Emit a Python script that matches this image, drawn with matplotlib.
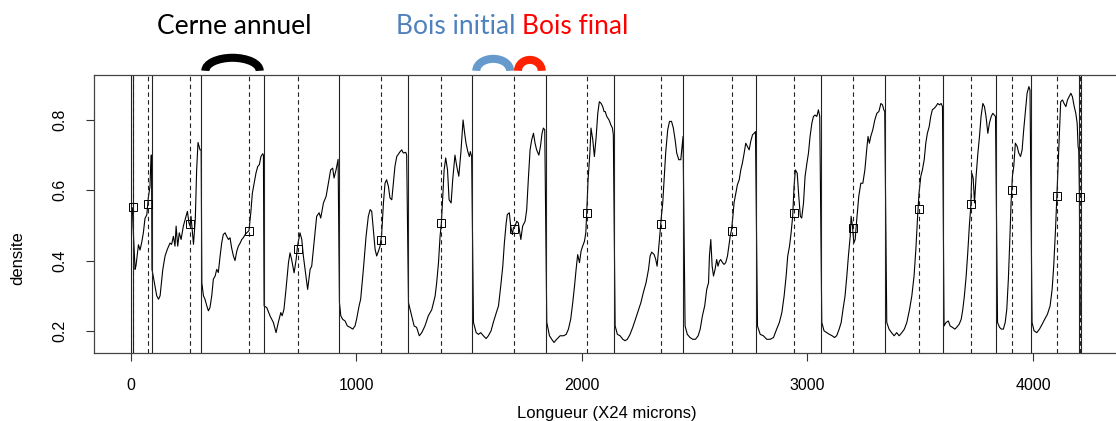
import matplotlib.pyplot as plt
from matplotlib.patches import Arc

plt.rcParams['font.family'] = ['Liberation Sans', 'DejaVu Sans']

# profil de densite (position en X24 microns), lu cerne par cerne
longueur = [
    8, 11, 20, 24, 35, 42, 49, 57, 64, 72, 79, 86, 91, 93,
    95, 116, 124, 131, 143, 153, 163, 175, 182, 190, 197, 202, 209, 216, 224, 234, 242, 252, 259, 264, 268,
    279, 287, 293, 299, 308, 313,
    316, 323, 330, 338, 345, 352, 360, 367, 375, 382, 389, 397, 404, 411, 419, 426, 434, 441, 448, 456, 463,
    471, 478, 486, 493, 500, 508, 515, 525, 533, 540, 548, 556, 564, 571, 578, 586, 589,
    592, 604, 618, 633, 645, 655, 666, 672, 680, 689, 700, 707, 714, 725, 734, 740, 751, 759, 766, 781, 785,
    796, 803, 813, 825, 836, 843, 855, 867, 877, 887, 896, 902, 911, 920,
    926, 932, 940, 951, 961, 973, 985, 995, 1002, 1013, 1020, 1032, 1044, 1054, 1062, 1069, 1076, 1084, 1091,
    1099, 1106, 1113, 1121, 1128, 1135, 1143, 1150, 1158, 1165, 1172, 1180, 1195, 1202, 1209, 1220, 1224,
    1232, 1246, 1257, 1268, 1280, 1291, 1305, 1320, 1335, 1350, 1357, 1365, 1372, 1378, 1384, 1390, 1397,
    1405, 1412, 1421, 1428, 1438, 1446, 1455, 1464, 1474, 1481, 1487, 1495, 1502, 1506, 1512,
    1520, 1532, 1542, 1552, 1564, 1576, 1586, 1598, 1608, 1619, 1631, 1641, 1650, 1657, 1665, 1670, 1679,
    1685, 1693, 1697, 1704, 1712, 1719, 1730, 1738, 1749, 1756, 1764, 1771, 1778, 1786, 1793, 1800, 1810,
    1817, 1824, 1830, 1836,
    1845, 1857, 1867, 1877, 1889, 1904, 1919, 1931, 1941, 1951, 1960, 1968, 1975, 1982, 1990, 1997, 2004,
    2012, 2018, 2022, 2028, 2036, 2041, 2049, 2056, 2064, 2071, 2078, 2086, 2093, 2099, 2104, 2111, 2121,
    2129, 2136, 2140,
    2148, 2158, 2170, 2182, 2192, 2202, 2214, 2226, 2238, 2250, 2262, 2273, 2285, 2296, 2303, 2310, 2321,
    2328, 2334, 2340, 2347, 2353, 2359, 2365, 2372, 2381, 2389, 2398, 2406, 2414, 2421, 2430, 2439, 2445, 2449,
    2458, 2468, 2480, 2492, 2504, 2516, 2525, 2535, 2545, 2554, 2562, 2566, 2572, 2578, 2584, 2591, 2598,
    2604, 2610, 2616, 2624, 2631, 2638, 2646, 2652, 2658, 2664, 2670, 2675, 2683, 2690, 2698, 2705, 2712,
    2720, 2727, 2734, 2742, 2749, 2757, 2764, 2770,
    2779, 2791, 2805, 2820, 2835, 2850, 2864, 2876, 2887, 2897, 2906, 2913, 2921, 2928, 2935, 2941, 2947,
    2955, 2962, 2969, 2975, 2983, 2990, 2998, 3005, 3012, 3020, 3027, 3034, 3042, 3049, 3055,
    3064, 3074, 3086, 3098, 3110, 3120, 3130, 3141, 3150, 3158, 3167, 3175, 3182, 3190, 3194, 3200, 3206,
    3212, 3219, 3228, 3237, 3246, 3255, 3263, 3269, 3275, 3281, 3290, 3299, 3308, 3317, 3326, 3333, 3339, 3343,
    3352, 3362, 3373, 3385, 3396, 3407, 3419, 3430, 3441, 3453, 3463, 3473, 3481, 3488, 3495, 3503, 3510,
    3518, 3525, 3532, 3540, 3547, 3554, 3562, 3569, 3578, 3586, 3593, 3599,
    3606, 3615, 3625, 3633, 3643, 3654, 3662, 3673, 3682, 3689, 3696, 3704, 3711, 3718, 3724, 3729, 3735,
    3741, 3748, 3756, 3763, 3770, 3778, 3785, 3792, 3800, 3807, 3815, 3822, 3829, 3834,
    3843, 3852, 3860, 3869, 3877, 3884, 3891, 3897, 3903, 3909, 3915, 3922, 3930, 3937, 3945, 3952, 3959,
    3967, 3974, 3982, 3987,
    3996, 4005, 4017, 4029, 4041, 4052, 4064, 4076, 4085, 4092, 4100, 4106, 4112, 4118, 4123, 4131, 4138,
    4146, 4153, 4160, 4168, 4175, 4183, 4190, 4196, 4200, 4203, 4206, 4208, 4210,
]
densite = [
    0.55, 0.50, 0.375, 0.385, 0.445, 0.43, 0.45, 0.48, 0.52, 0.53, 0.58, 0.61, 0.70, 0.70,
    0.375, 0.30, 0.29, 0.30, 0.375, 0.413, 0.432, 0.45, 0.446, 0.469, 0.441, 0.498, 0.441, 0.479, 0.46, 0.498,
    0.517, 0.54, 0.507, 0.498, 0.526, 0.446, 0.517, 0.658, 0.736, 0.715, 0.715,
    0.337, 0.30, 0.29, 0.271, 0.257, 0.266, 0.30, 0.347, 0.356, 0.375, 0.366, 0.413, 0.45, 0.474, 0.479, 0.469,
    0.46, 0.465, 0.436, 0.413, 0.40, 0.427, 0.441, 0.45, 0.46, 0.465, 0.474, 0.479, 0.485, 0.536, 0.592, 0.62,
    0.649, 0.668, 0.673, 0.696, 0.704, 0.70,
    0.271, 0.266, 0.243, 0.224, 0.195, 0.224, 0.252, 0.243, 0.261, 0.318, 0.394, 0.422, 0.403, 0.365, 0.403,
    0.441, 0.479, 0.46, 0.413, 0.337, 0.318, 0.375, 0.384, 0.45, 0.526, 0.536, 0.521, 0.564, 0.583, 0.62,
    0.658, 0.663, 0.635, 0.658, 0.688,
    0.28, 0.243, 0.233, 0.228, 0.214, 0.21, 0.205, 0.214, 0.233, 0.271, 0.29, 0.375, 0.469, 0.526, 0.545,
    0.54, 0.488, 0.432, 0.413, 0.427, 0.441, 0.474, 0.564, 0.62, 0.63, 0.611, 0.578, 0.573, 0.62, 0.668,
    0.696, 0.71, 0.715, 0.706, 0.708, 0.70,
    0.28, 0.243, 0.214, 0.21, 0.186, 0.195, 0.214, 0.243, 0.26, 0.299, 0.337, 0.394, 0.469, 0.509, 0.583,
    0.658, 0.692, 0.658, 0.573, 0.564, 0.63, 0.70, 0.668, 0.64, 0.706, 0.80, 0.762, 0.734, 0.71, 0.696,
    0.71, 0.696,
    0.224, 0.195, 0.19, 0.195, 0.186, 0.178, 0.186, 0.20, 0.224, 0.247, 0.271, 0.328, 0.384, 0.45, 0.507,
    0.531, 0.536, 0.498, 0.474, 0.493, 0.498, 0.512, 0.507, 0.46, 0.498, 0.512, 0.545, 0.64, 0.715, 0.743,
    0.762, 0.734, 0.715, 0.70, 0.725, 0.762, 0.777, 0.772,
    0.224, 0.186, 0.176, 0.167, 0.176, 0.186, 0.186, 0.19, 0.205, 0.233, 0.28, 0.328, 0.375, 0.417, 0.394,
    0.427, 0.441, 0.455, 0.479, 0.536, 0.63, 0.706, 0.777, 0.743, 0.696, 0.753, 0.819, 0.852, 0.847, 0.838,
    0.824, 0.824, 0.81, 0.80, 0.786, 0.777, 0.758,
    0.214, 0.19, 0.186, 0.176, 0.172, 0.176, 0.19, 0.21, 0.233, 0.257, 0.28, 0.309, 0.337, 0.375, 0.413,
    0.424, 0.417, 0.403, 0.384, 0.427, 0.479, 0.526, 0.564, 0.63, 0.706, 0.772, 0.796, 0.796, 0.777, 0.743,
    0.706, 0.687, 0.687, 0.725, 0.753,
    0.214, 0.19, 0.181, 0.176, 0.176, 0.186, 0.205, 0.243, 0.271, 0.318, 0.337, 0.413, 0.46, 0.384, 0.356,
    0.375, 0.403, 0.384, 0.398, 0.403, 0.394, 0.389, 0.394, 0.413, 0.441, 0.469, 0.488, 0.526, 0.564, 0.592,
    0.616, 0.63, 0.658, 0.677, 0.706, 0.734, 0.725, 0.715, 0.739, 0.758, 0.762, 0.767,
    0.214, 0.19, 0.186, 0.176, 0.176, 0.181, 0.205, 0.224, 0.252, 0.299, 0.356, 0.413, 0.441, 0.479, 0.526,
    0.611, 0.658, 0.649, 0.583, 0.526, 0.521, 0.564, 0.64, 0.677, 0.706, 0.753, 0.791, 0.81, 0.814, 0.81,
    0.829, 0.81,
    0.224, 0.20, 0.195, 0.19, 0.186, 0.181, 0.186, 0.205, 0.224, 0.261, 0.299, 0.356, 0.413, 0.469, 0.526,
    0.498, 0.45, 0.46, 0.517, 0.583, 0.62, 0.62, 0.658, 0.715, 0.753, 0.734, 0.753, 0.772, 0.80, 0.819,
    0.824, 0.847, 0.843, 0.829, 0.824,
    0.224, 0.205, 0.195, 0.186, 0.195, 0.186, 0.195, 0.205, 0.224, 0.261, 0.299, 0.356, 0.432, 0.517, 0.592,
    0.64, 0.658, 0.687, 0.734, 0.762, 0.781, 0.81, 0.829, 0.833, 0.838, 0.847, 0.843, 0.847, 0.838,
    0.214, 0.224, 0.228, 0.214, 0.21, 0.205, 0.21, 0.219, 0.233, 0.261, 0.299, 0.356, 0.422, 0.498, 0.55,
    0.649, 0.635, 0.564, 0.64, 0.706, 0.753, 0.81, 0.847, 0.838, 0.81, 0.762, 0.791, 0.81, 0.819, 0.814, 0.81,
    0.224, 0.21, 0.205, 0.205, 0.224, 0.261, 0.347, 0.45, 0.564, 0.64, 0.668, 0.734, 0.725, 0.706, 0.696,
    0.715, 0.772, 0.829, 0.876, 0.895, 0.885,
    0.224, 0.20, 0.195, 0.205, 0.219, 0.233, 0.247, 0.271, 0.318, 0.384, 0.488, 0.583, 0.677, 0.772, 0.852,
    0.857, 0.847, 0.838, 0.857, 0.866, 0.876, 0.866, 0.838, 0.819, 0.791, 0.725, 0.715, 0.583, 0.33, 0.245,
]

# limites de cernes (traits pleins) et transitions bois initial / bois final (tirets)
limites = [2, 9, 94, 314, 590, 922, 1229, 1515, 1840, 2143, 2451, 2773, 3060, 3346, 3602, 3837, 3990, 4204, 4213]
transitions = [13, 78, 262, 524, 742, 1111, 1378, 1700, 2022, 2351, 2664, 2939, 3201, 3493, 3724, 3905, 4106, 4208]
dens_transitions = [0.551, 0.561, 0.504, 0.485, 0.433, 0.459, 0.508, 0.49, 0.535, 0.504, 0.485, 0.536,
                    0.493, 0.548, 0.561, 0.601, 0.583, 0.581]

fig = plt.figure(figsize=(11.16, 4.21), dpi=100)
ax = fig.add_axes([94 / 1116, 68 / 421, 1024 / 1116, 278 / 421])

ax.plot(longueur, densite, color='black', lw=0.8)
for x in limites:
    ax.axvline(x, color='#222222', lw=0.8)
for x in transitions:
    ax.axvline(x, color='#222222', lw=0.8, ls=(0, (4, 3)))
ax.plot(transitions, dens_transitions, 's', mfc='none', mec='black', ms=5.5, mew=0.7)

ax.set_xlim(-162, 4377)
ax.set_ylim(0.137, 0.928)
ax.set_xticks([0, 1000, 2000, 3000, 4000])
ax.set_yticks([0.2, 0.4, 0.6, 0.8])
ax.tick_params(direction='out', length=6, width=0.8, color='#333333', labelsize=11.5)
ax.tick_params(axis='x', pad=12)
ax.tick_params(axis='y', pad=13, labelrotation=90)
for lab in ax.get_yticklabels():
    lab.set_va('center')
for sp in ax.spines.values():
    sp.set_color('#444444')
    sp.set_linewidth(0.9)

ax.set_xlabel('Longueur (X24 microns)', fontsize=12)
ax.xaxis.set_label_coords(0.501, -0.19)
ax.set_ylabel('densite', fontsize=12)
ax.yaxis.set_label_coords(-0.067, 0.34)

# schema en haut : cerne annuel, bois initial, bois final
bord = 35
arcs = [
    (limites[3], limites[4], 0.074, 'black'),
    (limites[7], transitions[7], 0.068, '#6699CC'),
    (transitions[7], limites[8], 0.062, '#FF2200'),
]
for a, b, h, c in arcs:
    ax.add_patch(Arc(((a + b) / 2, 0.94), (b - a) - bord, h, theta1=0, theta2=180,
                     lw=5.8, color=c, clip_on=False))

fig.text(234 / 1116, 1 - 34 / 421, 'Cerne annuel', ha='center', va='baseline',
         fontsize=19, family='Lato', color='black')
fig.text(456 / 1116, 1 - 34 / 421, 'Bois initial', ha='center', va='baseline',
         fontsize=19, family='Lato', color='#4F81BD')
fig.text(575 / 1116, 1 - 34 / 421, 'Bois final', ha='center', va='baseline',
         fontsize=19, family='Lato', color='#FF0000')

plt.savefig('out.png', dpi=100)
plt.close()
